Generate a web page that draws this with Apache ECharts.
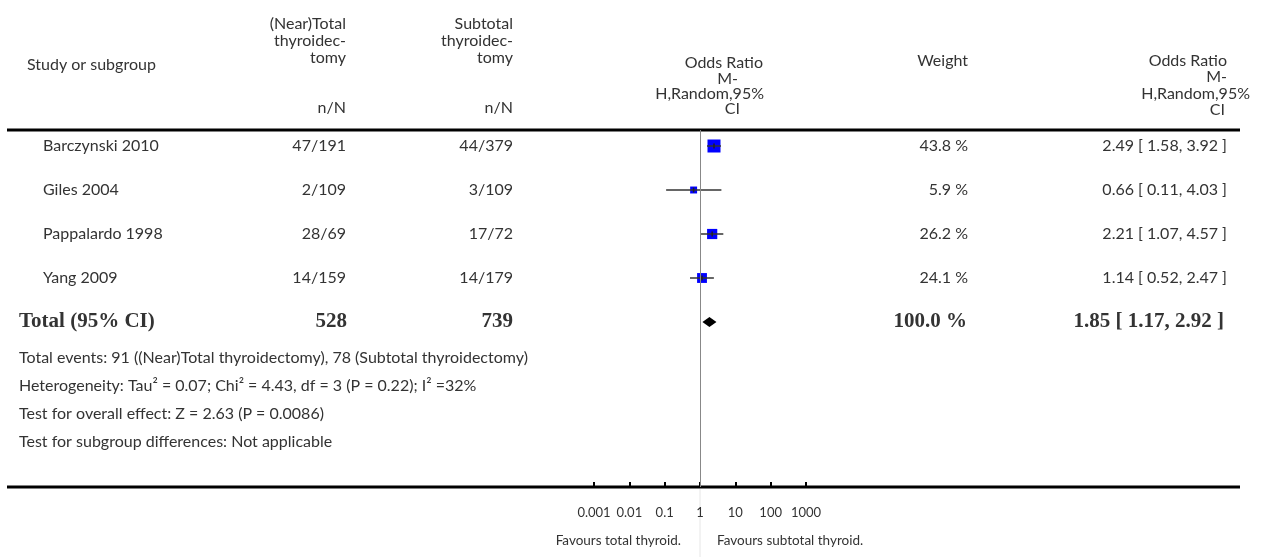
<!DOCTYPE html>
<html><head><meta charset="utf-8">
<script src="https://cdn.jsdelivr.net/npm/echarts@6/dist/echarts.min.js"></script>
<style>html,body{margin:0;padding:0;background:#fff}#c{width:1268px;height:557px}</style>
</head><body><div id="c"></div>
<script>
// ---- data ----
const studies = ['Barczynski 2010', 'Giles 2004', 'Pappalardo 1998', 'Yang 2009'];
const totalNN = ['47/191', '2/109', '28/69', '14/159'];
const subtotalNN = ['44/379', '3/109', '17/72', '14/179'];
const oddsRatio = [2.49, 0.66, 2.21, 1.14];
const ciLow = [1.58, 0.11, 1.07, 0.52];
const ciHigh = [3.92, 4.03, 4.57, 2.47];
const weights = [43.8, 5.9, 26.2, 24.1];
const pooledOR = [1.85];
const pooledLow = [1.17];
const pooledHigh = [2.92];
const totalLabel = 'Total (95% CI)';
const totalN = ['528', '739'];
const totalWeight = ['100.0 %'];
const footerLines = [
  'Total events: 91 ((Near)Total thyroidectomy), 78 (Subtotal thyroidectomy)',
  'Heterogeneity: Tau\u00b2 = 0.07; Chi\u00b2 = 4.43, df = 3 (P = 0.22); I\u00b2 =32%',
  'Test for overall effect: Z = 2.63 (P = 0.0086)',
  'Test for subgroup differences: Not applicable'
];
const tickLabels = ['0.001', '0.01', '0.1', '1', '10', '100', '1000'];
const favours = ['Favours total thyroid.', 'Favours subtotal thyroid.'];

// ---- styles ----
const SANS = 'Lato, "Open Sans", sans-serif';
const SERIF = '"Liberation Serif", "DejaVu Serif", serif';
const TXT = '#333';
const rowFont = '16px ' + SANS;
const headFont = '16px ' + SANS;
const boldFont = 'bold 21px ' + SERIF;

const ciText = (o, l, h) => o.toFixed(2) + ' [ ' + l.toFixed(2) + ', ' + h.toFixed(2) + ' ]';

const chart = echarts.init(document.getElementById('c'), null, {renderer: 'canvas'});

function txt(text, x, y, align, font) {
  return {type: 'text', x: x, y: y,
    style: {text: text, fill: TXT, font: font || rowFont, align: align, verticalAlign: 'middle',
            textAlign: align, textVerticalAlign: 'middle'}};
}
const h = (t, x, y, a) => txt(t, x, y, a || 'right', headFont);

const headers = [
  h('Study or subgroup', 27, 65, 'left'),
  h('(Near)Total', 346, 24), h('thyroidec-', 346, 41), h('tomy', 346, 58),
  h('n/N', 346, 108),
  h('Subtotal', 513, 24), h('thyroidec-', 513, 41), h('tomy', 513, 58),
  h('n/N', 513, 108),
  h('Odds Ratio', 763, 63), h('M-', 738, 79),
  h('H,Random,95%', 764, 94), h('CI', 740, 109),
  h('Weight', 968, 61),
  h('Odds Ratio', 1227, 61), h('M-', 1227, 77),
  h('H,Random,95%', 1250, 94), h('CI', 1225, 110)
];
const footers = footerLines.map((t, i) => txt(t, 19, 358 + i * 28, 'left'));

const forestData = studies.map((s, i) => [i, oddsRatio[i], ciLow[i], ciHigh[i], weights[i]]);
const pooledData = pooledOR.map((o, i) => [studies.length, o, pooledLow[i], pooledHigh[i]]);
const textRows = studies.map((s, i) => [i]);

const option = {
  animation: false,
  backgroundColor: '#fff',
  grid: [
    {left: 594, width: 212, top: 130, height: 357},
    {left: 0, right: 0, top: 130, height: 357}
  ],
  xAxis: [
    {type: 'log', logBase: 10, min: 0.001, max: 1000, gridIndex: 0, position: 'bottom',
     axisLine: {show: false, onZero: false},
     axisTick: {show: true, inside: true, length: 5, lineStyle: {color: '#000', width: 2}},
     axisLabel: {show: true, margin: 19, color: TXT, fontFamily: SANS, fontSize: 13,
                 formatter: (v, idx) => tickLabels[idx] !== undefined ? tickLabels[idx] : ''},
     splitLine: {show: false}},
    {type: 'value', min: 0, max: 1268, gridIndex: 1, show: false}
  ],
  yAxis: [
    {type: 'value', inverse: true, min: -16 / 44, max: 341 / 44, gridIndex: 0, show: false},
    {type: 'value', inverse: true, min: -16 / 44, max: 341 / 44, gridIndex: 1, show: false}
  ],
  graphic: [].concat(headers, footers, [
    {type: 'line', shape: {x1: 7, y1: 130, x2: 1240, y2: 130}, style: {stroke: '#000', lineWidth: 3}},
    {type: 'line', shape: {x1: 7, y1: 487, x2: 1240, y2: 487}, style: {stroke: '#000', lineWidth: 3}}
  ]),
  series: [
    {
      type: 'custom', name: 'table', xAxisIndex: 1, yAxisIndex: 1, silent: true,
      data: textRows,
      renderItem: function (params, api) {
        const i = api.value(0);
        const y = api.coord([0, i])[1];
        return {type: 'group', children: [
          txt(studies[i], 43, y, 'left'),
          txt(totalNN[i], 346, y, 'right'),
          txt(subtotalNN[i], 513, y, 'right'),
          txt(weights[i].toFixed(1) + ' %', 968, y, 'right'),
          txt(ciText(oddsRatio[i], ciLow[i], ciHigh[i]), 1227, y, 'right')
        ]};
      }
    },
    {
      type: 'custom', name: 'totalrow', xAxisIndex: 1, yAxisIndex: 1, silent: true,
      data: [[studies.length]],
      renderItem: function (params, api) {
        const y = api.coord([0, api.value(0)])[1];
        return {type: 'group', children: [
          txt(totalLabel, 19, y, 'left', boldFont),
          txt(totalN[0], 347, y, 'right', boldFont),
          txt(totalN[1], 513, y, 'right', boldFont),
          txt(totalWeight[0], 967, y, 'right', boldFont),
          txt(ciText(pooledOR[0], pooledLow[0], pooledHigh[0]), 1224, y, 'right', boldFont)
        ]};
      }
    },
    {
      type: 'custom', name: 'studies', xAxisIndex: 0, yAxisIndex: 0, silent: true,
      data: forestData,
      encode: {x: [1, 2, 3], y: 0},
      renderItem: function (params, api) {
        const i = api.value(0);
        const p = api.coord([api.value(1), i]);
        const pl = api.coord([api.value(2), i]);
        const ph = api.coord([api.value(3), i]);
        const s = 6 + api.value(4) * 0.16;
        return {type: 'group', children: [
          {type: 'rect', shape: {x: p[0] - s / 2, y: p[1] - s / 2, width: s, height: s},
           style: {fill: '#0000ff'}},
          {type: 'line', shape: {x1: pl[0], y1: p[1], x2: ph[0], y2: p[1]},
           style: {stroke: '#333', lineWidth: 1.5}},
          {type: 'line', shape: {x1: p[0], y1: p[1] - 2.5, x2: p[0], y2: p[1] + 2.5},
           style: {stroke: '#222', lineWidth: 1.5}}
        ]};
      },
      markLine: {
        silent: true, symbol: 'none', animation: false,
        label: {show: false},
        lineStyle: {color: '#888', width: 1, type: 'solid'},
        data: [{xAxis: 1}]
      }
    },
    {
      type: 'custom', name: 'pooled', xAxisIndex: 0, yAxisIndex: 0, silent: true,
      data: pooledData,
      encode: {x: [1, 2, 3], y: 0},
      renderItem: function (params, api) {
        const i = api.value(0);
        const p = api.coord([api.value(1), i]);
        const pl = api.coord([api.value(2), i]);
        const ph = api.coord([api.value(3), i]);
        return {type: 'polygon',
          shape: {points: [[pl[0], p[1]], [p[0], p[1] - 5], [ph[0], p[1]], [p[0], p[1] + 5]]},
          style: {fill: '#000'}};
      }
    }
  ]
};
chart.setOption(option);

const x1 = chart.convertToPixel({xAxisIndex: 0}, 1);
chart.setOption({graphic: [].concat(option.graphic, [
  {type: 'line', shape: {x1: x1, y1: 489, x2: x1, y2: 557}, style: {stroke: '#e6e6e6', lineWidth: 1}},
  txt(favours[0], x1 - 19, 541, 'right', '13.5px ' + SANS),
  txt(favours[1], x1 + 17, 541, 'left', '13.5px ' + SANS)
])});
</script>
</body></html>
